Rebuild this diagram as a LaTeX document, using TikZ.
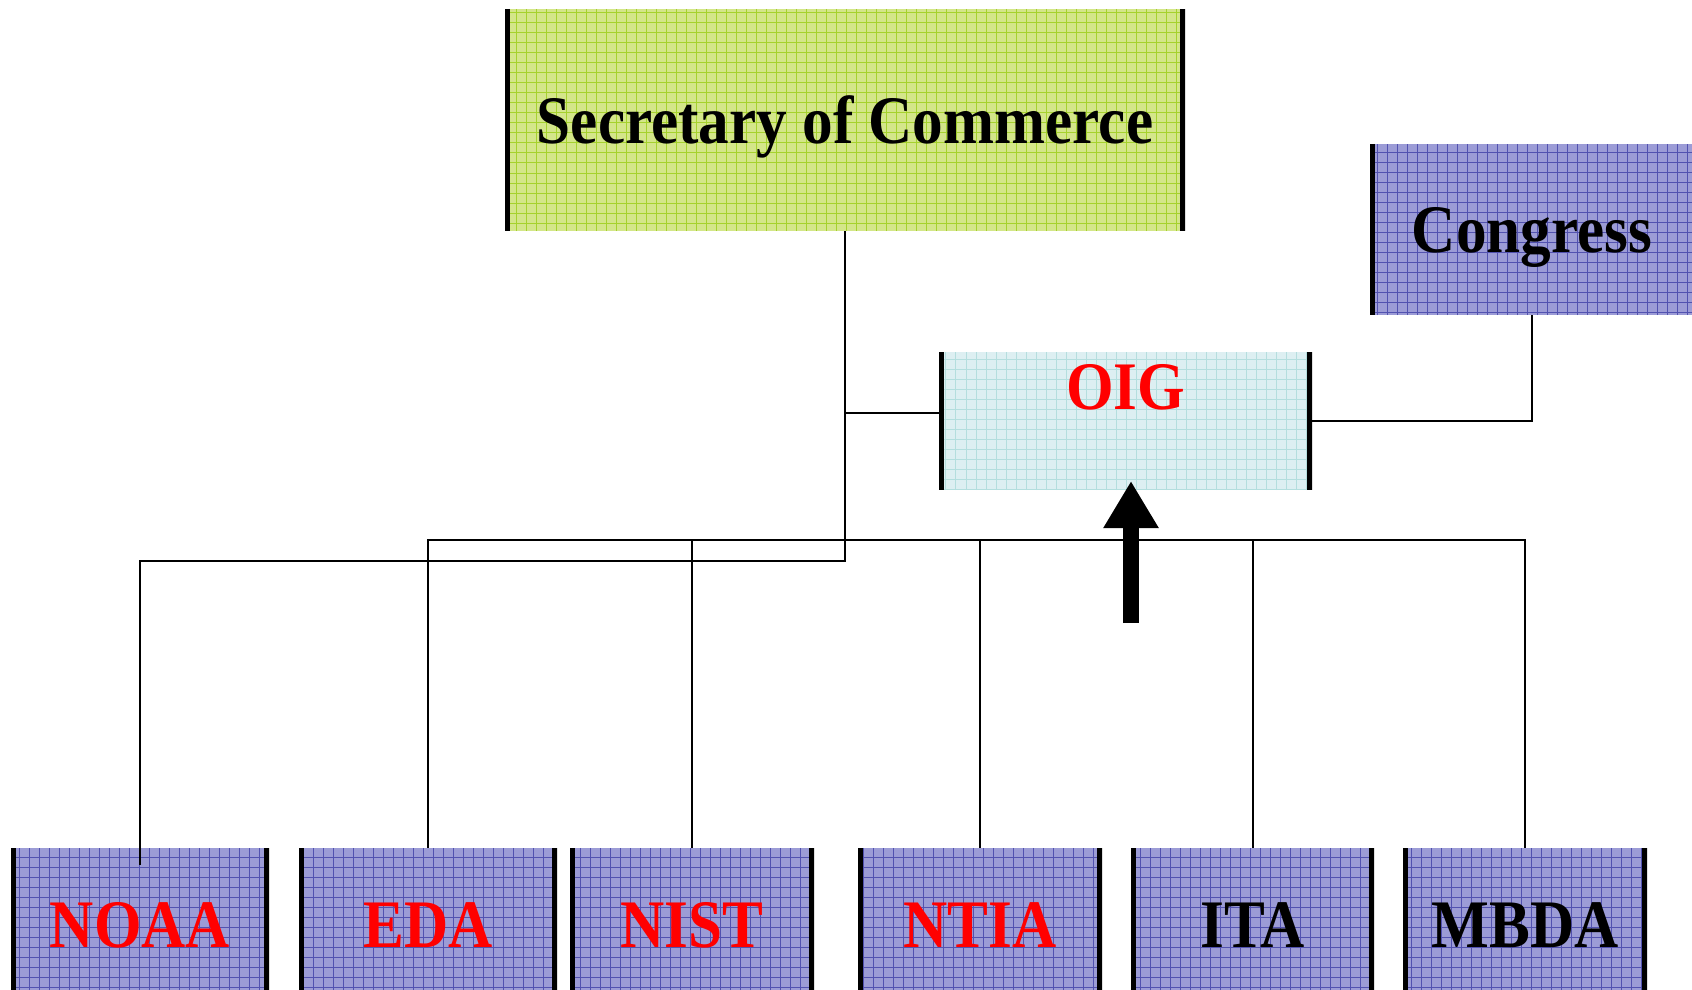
\documentclass[tikz,border=0pt]{standalone}
\usepackage{fontspec}
\setmainfont{Liberation Serif}[FakeStretch=0.9]
\usetikzlibrary{arrows.meta}

\definecolor{secfill}{HTML}{D4E68A}
\definecolor{secgrid}{HTML}{A6D22E}
\definecolor{unitfill}{HTML}{9C9CD6}
\definecolor{unitgrid}{HTML}{5252B0}
\definecolor{oigfill}{HTML}{DDEFF2}
\definecolor{oiggrid}{HTML}{B4DEDE}

\tikzset{
  box/.style 2 args={rectangle, inner sep=0pt, fill=#1,
    font=\fontsize{34}{40}\selectfont\bfseries, text height=23pt, text depth=0pt,
    path picture={
      \draw[#2, line width=0.5pt] (path picture bounding box.south west) grid[step=5pt] (path picture bounding box.north east);
      \draw[line width=5pt] (path picture bounding box.north west) -- (path picture bounding box.south west)
                            (path picture bounding box.north east) -- (path picture bounding box.south east);}},
  link/.style={draw=black, line width=1pt},
  bigarrow/.style={line width=8pt, -{Triangle[width=26pt,length=23.5pt]}}
}

\begin{document}
\begin{tikzpicture}[x=0.5pt,y=-0.5pt]
	\tikzstyle{unit}=[box={unitfill}{unitgrid}, minimum height=76pt]
	
	\useasboundingbox (0,0) rectangle (1692,990);
	
	\draw node at (845, 120) [box={secfill}{secgrid}, minimum width=340pt, minimum height=111pt] (sec) {Secretary of Commerce};
	\draw node at (1540, 229.5) [box={unitfill}{unitgrid}, minimum width=170pt, minimum height=85.5pt] (congress) {\hspace*{-8pt}Congress};
	\draw node at (1125.5, 421) [box={oigfill}{oiggrid}, minimum width=186.5pt, minimum height=69pt, text=red, text depth=35pt] (oig) {OIG};
	
	\draw node at (140, 924) [unit, minimum width=129pt, text=red] (noaa) {NOAA};
	\draw node at (428, 924) [unit, minimum width=129pt, text=red] (eda) {EDA};
	\draw node at (692, 924) [unit, minimum width=122pt, text=red] (nist) {NIST};
	\draw node at (980, 924) [unit, minimum width=122pt, text=red] (ntia) {NTIA};
	\draw node at (1252.5, 924) [unit, minimum width=121.5pt] (ita) {ITA};
	\draw node at (1525, 924) [unit, minimum width=122pt] (mbda) {MBDA};
	
	\coordinate (split) at (845, 561);
	\coordinate (bus) at (428, 540);
	\coordinate (foot) at (1131, 623);
	\coordinate (tip) at (1131, 481);
	
	% secretary line
	\draw [link] (sec.south) -- (split) -| ([yshift=-8.5pt]noaa.north);
	\draw [link] (sec.south |- oig.west) ++(0,-8) -- ([yshift=4pt]oig.west);
	\draw [link] (oig.east) -| ([xshift=-4pt]congress.south);
	
	% bus to the units
	\draw [link] (eda.north) -- (bus) -- (bus -| mbda.north) -- (mbda.north);
	\draw [link] (nist.north) -- (nist.north |- bus);
	\draw [link] (ntia.north) -- (ntia.north |- bus);
	\draw [link] (ita.north) -- (ita.north |- bus);
	
	\draw [bigarrow] (foot) -- (tip);
\end{tikzpicture}
\end{document}
